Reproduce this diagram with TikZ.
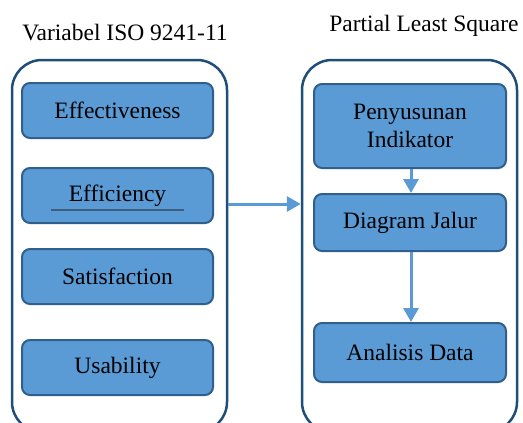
\documentclass[tikz,border=0pt]{standalone}
\usepackage{fontspec}
\setmainfont{Liberation Serif}
\usetikzlibrary{arrows.meta}
\definecolor{boxfill}{HTML}{5B9BD5}
\definecolor{boxline}{HTML}{2F5F8C}
\definecolor{contline}{HTML}{1F4E79}
\definecolor{arrcol}{HTML}{5B9BD5}
\definecolor{ulcol}{HTML}{3D5E80}
\tikzset{
  container/.style={draw=contline, line width=2.5pt, rounded corners=30pt, minimum width=215pt, minimum height=372pt, inner sep=0pt},
  itembox/.style={draw=boxline, fill=boxfill, line width=2pt, rounded corners=8pt, inner sep=0pt, align=center, font=\fontsize{23.5}{28}\selectfont},
  title/.style={anchor=base, inner sep=0pt, font=\fontsize{23.5}{28}\selectfont},
  flow/.style={draw=arrcol, line width=3pt, -{Triangle[length=14pt,width=15pt]}}
}
\begin{document}
\begin{tikzpicture}[x=1pt,y=-1pt]
\useasboundingbox (0,0) rectangle (523,423);
\clip (0,0) rectangle (523,423);
\fill[white] (0,0) rectangle (523,423);
\node[title] (t1) at (125,40) {Variabel ISO 9241-11};
\node[title] (t2) at (424,31) {Partial Least Square};
\node[container] (lc) at (119.5,246) {};
\node[container] (rc) at (409.5,246) {};
\node[itembox, minimum width=191pt, minimum height=55pt] (eff) at (117.5,110.5) {Effectiveness};
\node[itembox, minimum width=191pt, minimum height=55pt] (efi) at (117.5,195.5) {Efficiency};
\node[itembox, minimum width=191pt, minimum height=55pt] (sat) at (117.5,276.5) {Satisfaction};
\node[itembox, minimum width=191pt, minimum height=55pt] (usa) at (117.5,367.5) {Usability};
\node[itembox, minimum width=192pt, minimum height=84pt] (pen) at (410,126) {Penyusunan\\Indikator};
\node[itembox, minimum width=192pt, minimum height=57pt] (dj) at (410,222.5) {Diagram Jalur};
\node[itembox, minimum width=192pt, minimum height=59pt] (ad) at (410,352.5) {Analisis Data};
\draw[ulcol, line width=1.5pt] ([xshift=-66.5pt,yshift=-14.5pt]efi.center) -- ([xshift=66.5pt,yshift=-14.5pt]efi.center);
\draw[flow] (lc.east |- 0,204) -- (rc.west |- 0,204);
\draw[flow] ([xshift=1pt]pen.south) -- ([xshift=1pt]dj.north);
\draw[flow] ([xshift=1pt]dj.south) -- ([xshift=1pt]ad.north);
\end{tikzpicture}
\end{document}
